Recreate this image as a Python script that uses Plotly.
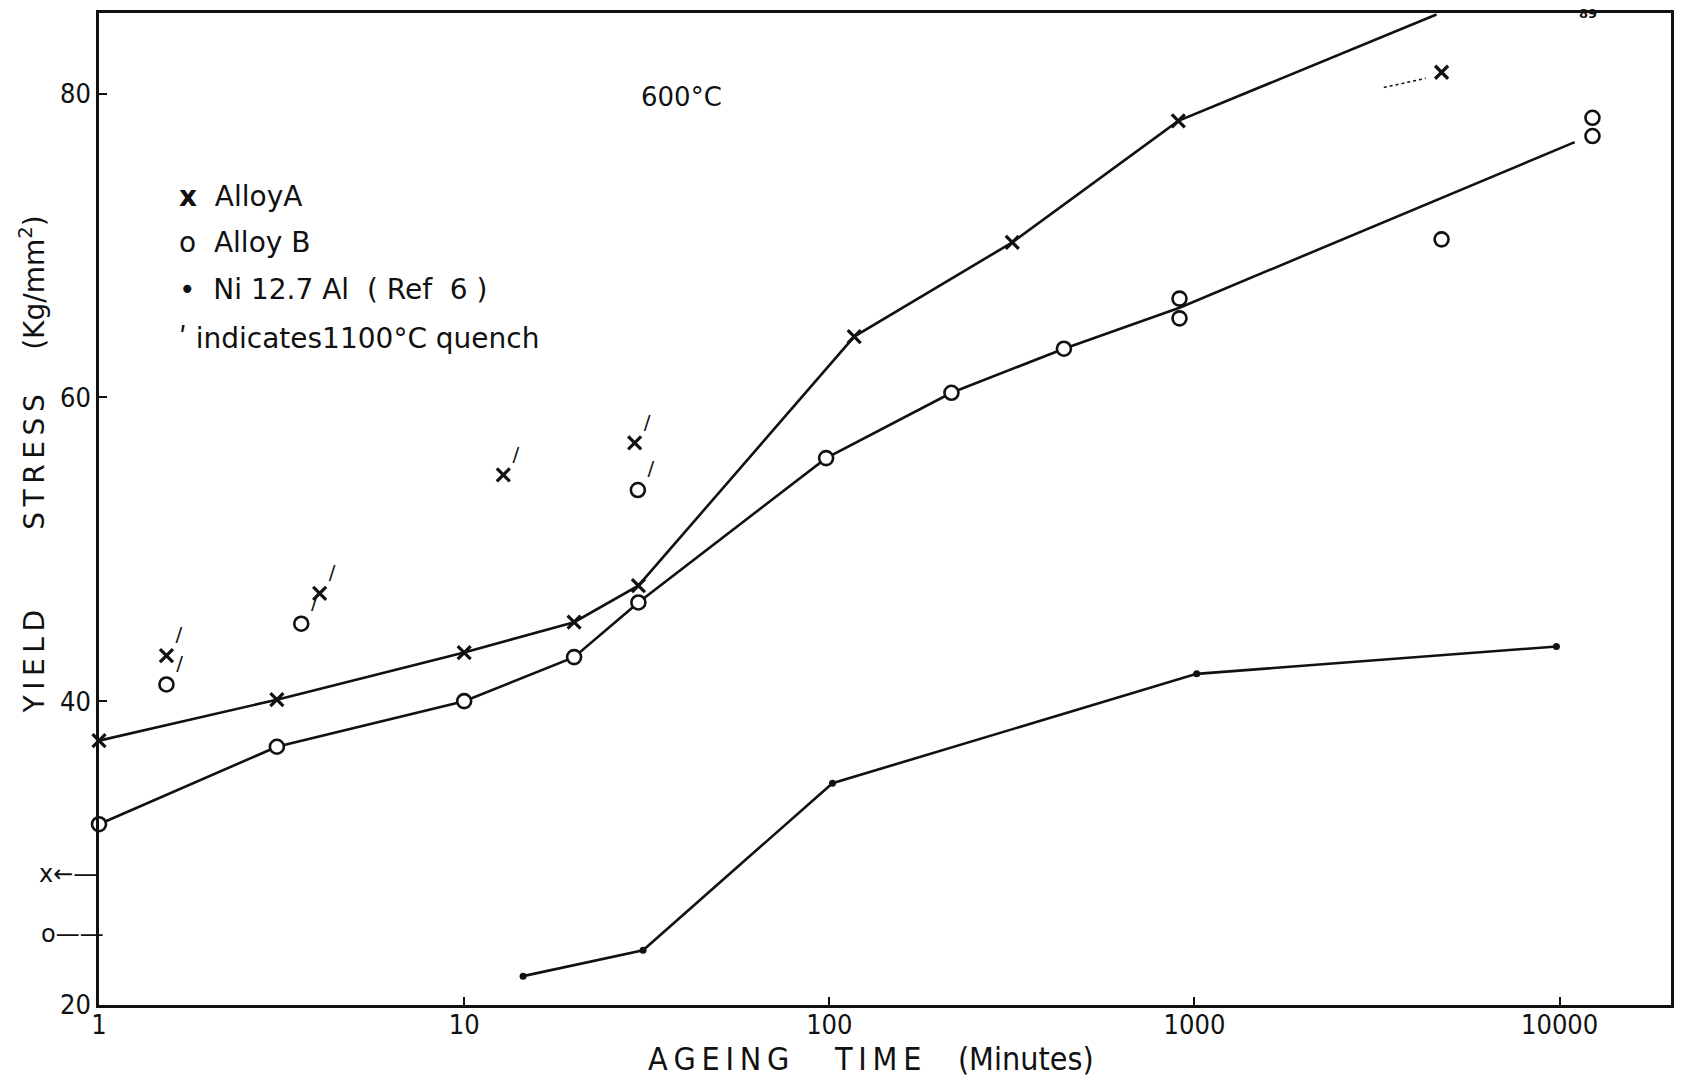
import math
import plotly.graph_objects as go

# ---- data ----
alloyA_x = [1, 3.07, 10, 20, 30, 117, 317, 903]
alloyA_y = [37.4, 40.1, 43.2, 45.2, 47.6, 64.0, 70.2, 78.2]
alloyA_line_x = [1, 3.07, 10, 20, 30, 117, 317, 903, 4600]
alloyA_line_y = [37.4, 40.1, 43.2, 45.2, 47.6, 64.0, 70.2, 78.2, 85.2]
alloyA_extra_x = [4750]
alloyA_extra_y = [81.4]
alloyA_dot_x = [3300, 4300]
alloyA_dot_y = [80.4, 81.0]

alloyB_x = [1, 3.07, 10, 20, 30, 98, 216, 439, 910, 910, 4750, 12300, 12300]
alloyB_y = [31.9, 37.0, 40.0, 42.9, 46.5, 56.0, 60.3, 63.2, 66.5, 65.2, 70.4, 78.4, 77.2]
alloyB_line_x = [1, 3.07, 10, 20, 30, 98, 216, 439, 910, 11000]
alloyB_line_y = [31.9, 37.0, 40.0, 42.9, 46.5, 56.0, 60.3, 63.2, 65.9, 76.8]

ni_x = [14.5, 30.9, 102, 1014, 9800]
ni_y = [21.9, 23.6, 34.6, 41.8, 43.6]

quenchA_x = [1.53, 4.02, 12.8, 29.3]
quenchA_y = [43.0, 47.1, 54.9, 57.0]
quenchB_x = [1.53, 3.58, 29.9]
quenchB_y = [41.1, 45.1, 53.9]

# as-quenched values drawn left of the y axis
asq_x = [0.713, 0.72]
asq_y = [28.6, 24.7]
asq_label = ["x\u2190\u2014", "o\u2014\u2014"]

x_ticks = [1, 10, 100, 1000, 10000]
x_ticklabels = ["1", "10", "100", "1000", "10000"]
y_ticks = [20, 40, 60, 80]

X_RANGE = [0, 4.305]
Y_RANGE = [20, 85.3]

BLACK = "#111111"
narrow = "Liberation Sans Narrow, DejaVu Sans Condensed, Arial Narrow, sans-serif"
tickfont = dict(family=narrow, size=27, color=BLACK)
textfont = "DejaVu Sans, Noto Sans, sans-serif"
TS = "\u2009"  # thin space

fig = go.Figure()

# fitted lines
fig.add_trace(go.Scatter(x=alloyA_line_x, y=alloyA_line_y, mode="lines",
                         line=dict(color=BLACK, width=2.6)))
fig.add_trace(go.Scatter(x=alloyB_line_x, y=alloyB_line_y, mode="lines",
                         line=dict(color=BLACK, width=2.6)))
fig.add_trace(go.Scatter(x=ni_x, y=ni_y, mode="lines+markers",
                         line=dict(color=BLACK, width=2.6),
                         marker=dict(symbol="circle", size=7, color=BLACK)))
fig.add_trace(go.Scatter(x=alloyA_dot_x, y=alloyA_dot_y, mode="lines",
                         line=dict(color=BLACK, width=1.5, dash="dot")))

# markers
fig.add_trace(go.Scatter(x=alloyA_x + alloyA_extra_x, y=alloyA_y + alloyA_extra_y, mode="markers",
                         marker=dict(symbol="x-thin-open", size=13, color=BLACK,
                                     line=dict(color=BLACK, width=3.2)),
                         cliponaxis=False))
fig.add_trace(go.Scatter(x=alloyB_x, y=alloyB_y, mode="markers",
                         marker=dict(symbol="circle", size=14, color="white",
                                     line=dict(color=BLACK, width=2.6)),
                         cliponaxis=False))

# quench points (with tick marks)
fig.add_trace(go.Scatter(x=quenchA_x, y=quenchA_y, mode="markers+text",
                         marker=dict(symbol="x-thin-open", size=13, color=BLACK,
                                     line=dict(color=BLACK, width=3.2)),
                         text=["/"] * len(quenchA_x), textposition="top right",
                         textfont=dict(family=textfont, size=20, color=BLACK)))
fig.add_trace(go.Scatter(x=quenchB_x, y=quenchB_y, mode="markers+text",
                         marker=dict(symbol="circle", size=14, color="white",
                                     line=dict(color=BLACK, width=2.6)),
                         text=["/"] * len(quenchB_x), textposition="top right",
                         textfont=dict(family=textfont, size=20, color=BLACK)))


def to_paper_x(v):
    return (math.log10(v) - X_RANGE[0]) / (X_RANGE[1] - X_RANGE[0])


def to_paper_y(v):
    return (v - Y_RANGE[0]) / (Y_RANGE[1] - Y_RANGE[0])


annotations = [
    dict(x=1.595, y=79.8, xref="x", yref="y", text="600\u00b0C", showarrow=False,
         font=dict(family=textfont, size=26, color=BLACK)),
    dict(x=0.214, y=73.2, xref="x", yref="y", text="<b>x</b>  AlloyA", showarrow=False,
         xanchor="left", font=dict(family=textfont, size=28, color=BLACK)),
    dict(x=0.214, y=70.2, xref="x", yref="y", text="o  Alloy B", showarrow=False,
         xanchor="left", font=dict(family=textfont, size=28, color=BLACK)),
    dict(x=0.214, y=67.1, xref="x", yref="y", text="\u2022  Ni 12.7 Al  ( Ref  6 )", showarrow=False,
         xanchor="left", font=dict(family=textfont, size=28, color=BLACK)),
    dict(x=0.214, y=63.9, xref="x", yref="y", text="\u02b9 indicates1100\u00b0C quench", showarrow=False,
         xanchor="left", font=dict(family=textfont, size=28, color=BLACK)),
    dict(x=4.079, y=85.3, xref="x", yref="y", text="<b>89</b>", showarrow=False,
         font=dict(family=textfont, size=13, color=BLACK)),
    dict(x=-0.0425, y=0.545, xref="paper", yref="paper", xanchor="center", yanchor="middle",
         text=TS.join("YIELD") + "         " + TS.join("STRESS") + "     (Kg/mm<sup>2</sup>)",
         showarrow=False, textangle=-90, font=dict(family=textfont, size=28, color=BLACK)),
    dict(x=0.491, y=-0.0545, xref="paper", yref="paper", xanchor="center", yanchor="middle",
         text=TS.join("AGEING") + "     " + TS.join("TIME") + "    (Minutes)", showarrow=False,
         font=dict(family=narrow, size=32, color=BLACK)),
]
for vx, vy, lab in zip(asq_x, asq_y, asq_label):
    annotations.append(dict(x=to_paper_x(vx), y=to_paper_y(vy), xref="paper", yref="paper",
                            xanchor="left", yanchor="middle", xshift=-8,
                            text=lab, showarrow=False,
                            font=dict(family=textfont, size=24, color=BLACK)))

fig.update_layout(
    width=1683, height=1078,
    margin=dict(l=99, r=9, t=13, b=73),
    paper_bgcolor="white", plot_bgcolor="white",
    showlegend=False,
    annotations=annotations,
)
fig.update_xaxes(type="log", range=X_RANGE, tickvals=x_ticks, ticktext=x_ticklabels,
                 showline=True, linecolor=BLACK, linewidth=2.5, mirror=True,
                 ticks="inside", ticklen=8, tickwidth=2, tickcolor=BLACK,
                 ticklabelstandoff=-6,
                 showgrid=False, zeroline=False, tickfont=tickfont)
fig.update_yaxes(range=Y_RANGE, tickvals=y_ticks,
                 showline=True, linecolor=BLACK, linewidth=2.5, mirror=True,
                 ticks="inside", ticklen=8, tickwidth=2, tickcolor=BLACK,
                 showgrid=False, zeroline=False, tickfont=tickfont)

fig.write_html("out.html")
